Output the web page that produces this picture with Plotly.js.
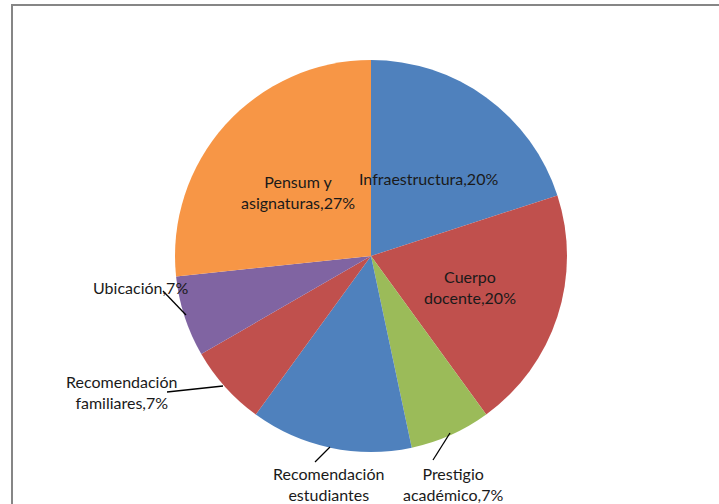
<!DOCTYPE html>
<html>
<head>
<meta charset="utf-8">
<script src="https://cdn.plot.ly/plotly-3.0.1.min.js"></script>
<style>html,body{margin:0;padding:0;background:#fff;}#chart{width:719px;height:504px;}</style>
</head>
<body>
<div id="chart"></div>
<script>
// Data (counts out of 15 responses)
const categories = ["Infraestructura", "Cuerpo docente", "Prestigio académico", "Recomendación estudiantes", "Recomendación familiares", "Ubicación", "Pensum y asignaturas"];
const values = [3, 3, 1, 2, 1, 1, 4];
const percentLabels = ["20%", "20%", "7%", "13%", "7%", "7%", "27%"];
const colors = ["#4F81BD", "#C0504D", "#9BBB59", "#4F81BD", "#C0504D", "#8064A2", "#F79646"];

const W = 719, H = 504;
const px = x => x / W;
const py = y => 1 - y / H;

// label text (wrapped as in the reference)
const labelLines = [
  ["Infraestructura," + percentLabels[0]],
  ["Cuerpo", "docente," + percentLabels[1]],
  ["Prestigio", "académico," + percentLabels[2]],
  ["Recomendación", "estudiantes", "," + percentLabels[3]],
  ["Recomendación", "familiares," + percentLabels[4]],
  ["Ubicación," + percentLabels[5]],
  ["Pensum y", "asignaturas," + percentLabels[6]]
];
// label anchor (top-center of first line) in pixels
const labelPos = [[428, 167], [470, 265], [453, 462], [328, 462], [122, 370], [140, 276], [298, 170]];
// leader lines
const leaders = [
  null, null,
  [[433, 460], [450, 433]],
  [[315, 462], [330, 447]],
  [[167, 392], [223, 386]],
  [[163, 291], [186, 315]],
  null
];

const font = {family: "Lato, 'Open Sans', sans-serif", size: 16, color: "#1a1a1a"};

const annotations = labelLines.map((lines, i) => ({
  xref: "paper", yref: "paper",
  x: px(labelPos[i][0]), y: py(labelPos[i][1]),
  xanchor: "center", yanchor: "top",
  text: lines.join("<br>"),
  showarrow: false, align: "center", font: font
}));

const shapes = [{
  type: "rect", xref: "paper", yref: "paper",
  x0: px(12), x1: px(760), y0: py(5), y1: py(560),
  line: {color: "#868686", width: 2}, fillcolor: "rgba(0,0,0,0)", layer: "below"
}];
leaders.forEach(l => {
  if (!l) return;
  shapes.push({type: "line", xref: "paper", yref: "paper",
    x0: px(l[0][0]), y0: py(l[0][1]), x1: px(l[1][0]), y1: py(l[1][1]),
    line: {color: "#000", width: 1.3}});
});

const cx = 371, cy = 256, r = 196;
const trace = {
  type: "pie",
  labels: categories,
  values: values,
  sort: false,
  direction: "clockwise",
  rotation: 0,
  marker: {colors: colors, line: {width: 0}},
  textinfo: "none",
  hoverinfo: "label+percent",
  showlegend: false,
  domain: {x: [px(cx - r), px(cx + r)], y: [py(cy + r), py(cy - r)]}
};

Plotly.newPlot("chart", [trace], {
  width: W, height: H,
  margin: {l: 0, r: 0, t: 0, b: 0},
  paper_bgcolor: "#fff",
  showlegend: false,
  annotations: annotations,
  shapes: shapes
}, {displayModeBar: false, staticPlot: true});
</script>
</body>
</html>
